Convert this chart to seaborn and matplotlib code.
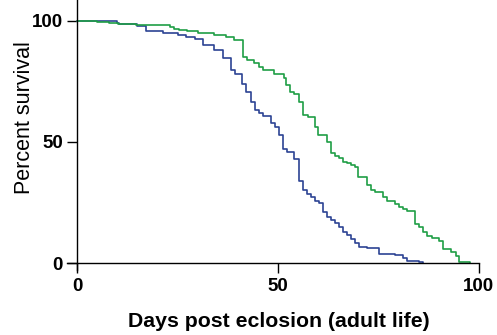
import numpy as np
import pandas as pd
import matplotlib
matplotlib.use("Agg")
import matplotlib.pyplot as plt
import seaborn as sns

# --- data ---
blue_days = [0, 9.8, 10.5, 14.8, 17.1, 21.3, 25.2, 27.1, 29.3, 31.2,
             34.1, 36.2, 38.3, 39.2, 41.1, 42.1, 43.2, 44.2, 45.3, 46.3,
             48.2, 49.3, 50.3, 51.3, 52.2, 54.1, 55.2, 56.2, 57.1, 58.1,
             59.2, 60.3, 61.2, 62.1, 63.1, 64.2, 65.2, 66.2, 67.2, 68.1,
             69.1, 70.1, 72.1, 75.2, 79.1, 81.2, 82.2, 85.1, 86.2]
blue_pct = [100, 99.2, 98.8, 97.8, 95.9, 95.1, 94.2, 93.2, 92.3, 90.0,
            87.9, 84.5, 79.7, 78.0, 73.9, 70.7, 66.6, 63.3, 61.8, 60.7,
            57.7, 56.3, 52.9, 47.0, 46.0, 42.9, 33.8, 30.2, 28.6, 27.5,
            25.8, 24.7, 21.3, 19.2, 17.8, 16.7, 14.8, 13.0, 11.7, 9.9,
            8.2, 6.8, 6.2, 3.8, 3.4, 2.1, 0.9, 0.4, 0]

green_days = [0, 5.0, 8.0, 10.2, 14.6, 19.9, 23.1, 24.1, 25.4, 27.4,
              30.0, 34.1, 37.0, 39.1, 41.2, 42.2, 44.0, 45.3, 46.2, 49.1,
              51.5, 52.0, 53.0, 54.1, 55.2, 56.1, 57.4, 59.1, 60.0, 62.1,
              63.1, 64.2, 65.2, 66.3, 67.3, 68.3, 69.1, 69.9, 72.1, 73.1,
              74.1, 76.2, 77.1, 79.1, 80.1, 81.2, 82.2, 84.1, 85.1, 86.2,
              87.2, 88.4, 90.1, 91.2, 93.0, 94.3, 95.1, 97.9]
green_pct = [100, 99.5, 98.9, 98.6, 98.4, 98.1, 97.5, 96.7, 96.2, 95.6,
             94.8, 94.2, 93.4, 92.0, 85.2, 83.8, 82.7, 80.9, 79.6, 78.0,
             76.4, 73.5, 70.7, 69.8, 66.6, 61.1, 60.2, 56.3, 52.9, 50.1,
             45.3, 44.2, 43.3, 41.9, 41.2, 40.5, 39.6, 35.7, 32.3, 30.2,
             29.5, 27.5, 25.8, 24.4, 23.3, 22.3, 21.7, 16.2, 14.8, 13.0,
             11.3, 10.3, 9.3, 5.8, 4.8, 3.0, 0.5, 0]

x_ticks = [0, 50, 100]
y_ticks = [0, 50, 100]
x_label = "Days post eclosion (adult life)"
y_label = "Percent survival"

df = pd.concat([
    pd.DataFrame({"day": blue_days, "pct": blue_pct, "group": "blue"}),
    pd.DataFrame({"day": green_days, "pct": green_pct, "group": "green"}),
])

sns.set_style("ticks")
plt.rcParams["font.family"] = ["Liberation Sans", "DejaVu Sans"]
plt.rcParams["text.color"] = "black"
plt.rcParams["axes.labelcolor"] = "black"
plt.rcParams["xtick.color"] = "black"
plt.rcParams["ytick.color"] = "black"

fig = plt.figure(figsize=(4.97, 3.35), dpi=100)
ax = fig.add_axes([0.1346, 0.1937, 0.8286, 0.8063])

sns.lineplot(data=df, x="day", y="pct", hue="group",
             palette={"blue": "#2c4394", "green": "#1f9e45"},
             drawstyle="steps-post", linewidth=1.2, legend=False,
             estimator=None, sort=True, ax=ax)

ax.set_xlim(-2.6, 100)
ax.set_ylim(-2.8, 108.5)
ax.spines["left"].set_position(("data", 0))
ax.spines["bottom"].set_position(("data", 0))
ax.spines["top"].set_visible(False)
ax.spines["right"].set_visible(False)
for s in ("left", "bottom"):
    ax.spines[s].set_linewidth(1.0)
    ax.spines[s].set_color("black")

ax.set_xticks(x_ticks)
ax.set_yticks(y_ticks)
ax.set_xticklabels([str(t) for t in x_ticks], fontsize=13.5, fontweight="bold")
ax.set_yticklabels([str(t) for t in y_ticks], fontsize=13.5, fontweight="bold")
ax.tick_params(axis="both", direction="out", length=7.5, width=1.0,
               colors="black", pad=3)

ax.set_xlabel(x_label, fontsize=15.3, fontweight="bold")
ax.set_ylabel(y_label, fontsize=15.5)
ax.xaxis.set_label_coords(0.514, -0.154)
ax.yaxis.set_label_coords(-0.078, 0.565)

fig.savefig("out.png", dpi=100)
